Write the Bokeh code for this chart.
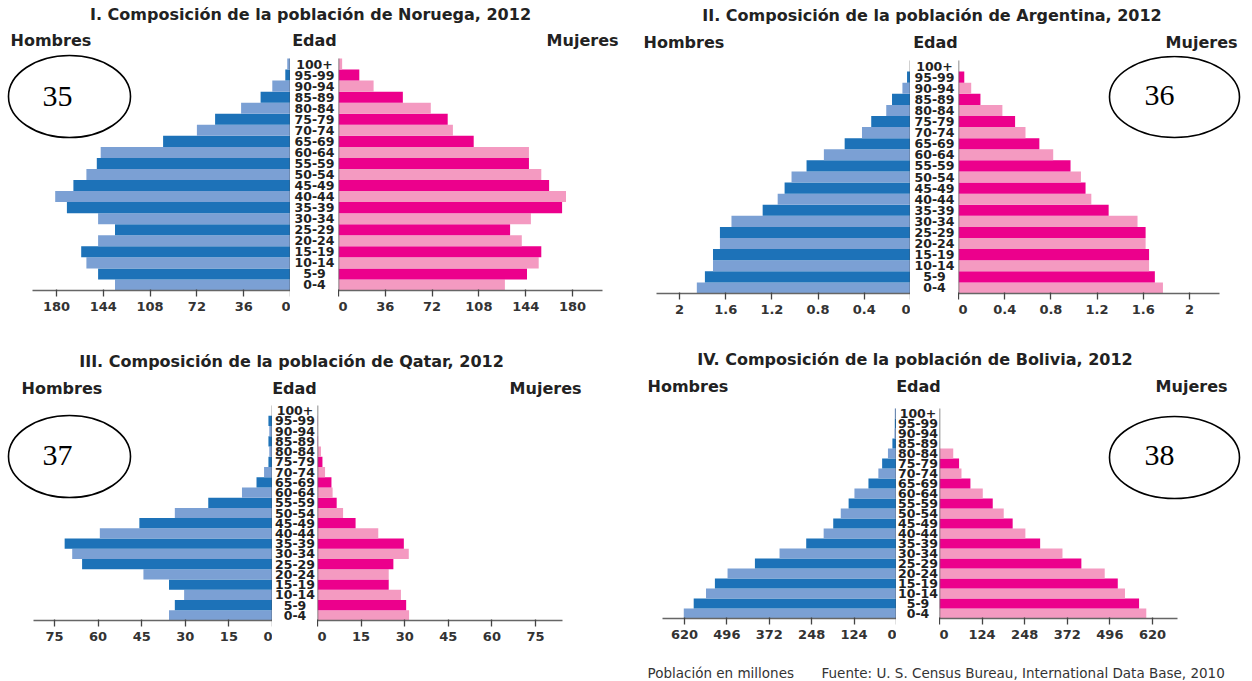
from bokeh.plotting import figure
from bokeh.layouts import row, column
from bokeh.models import (Range1d, FixedTicker, Span, NumeralTickFormatter,
                          ColumnDataSource, LinearScale)
from bokeh.embed import file_html
from bokeh.resources import INLINE
from bokeh.core.properties import value

# ---------------- data (bottom to top) ----------------
edades = ["0-4", "5-9", "10-14", "15-19", "20-24", "25-29", "30-34", "35-39",
          "40-44", "45-49", "50-54", "55-59", "60-64", "65-69", "70-74",
          "75-79", "80-84", "85-89", "90-94", "95-99", "100+"]

noruega_hombres = [135, 148, 157, 161, 148, 135, 148, 172, 181, 167, 157,
                   149, 146, 98, 72, 58, 38, 23, 14, 4, 2.5]
noruega_mujeres = [128, 145, 154, 156, 141, 132, 148, 172, 175, 162, 156,
                   146.5, 146.5, 104, 88, 84, 71, 49.5, 27, 16, 2.8]
noruega_ticks = [0, 36, 72, 108, 144, 180]

argentina_hombres = [1.85, 1.78, 1.71, 1.71, 1.65, 1.65, 1.55, 1.28, 1.15, 1.09,
                     1.03, 0.90, 0.75, 0.57, 0.42, 0.34, 0.21, 0.16, 0.07, 0.03, 0.0]
argentina_mujeres = [1.77, 1.70, 1.65, 1.65, 1.62, 1.62, 1.55, 1.30, 1.15, 1.10,
                     1.06, 0.97, 0.82, 0.70, 0.58, 0.49, 0.38, 0.19, 0.11, 0.05, 0.0]
argentina_ticks = [0, 0.4, 0.8, 1.2, 1.6, 2]

qatar_hombres = [35.6, 33.6, 30.4, 35.6, 44.4, 65.5, 68.9, 71.5, 59.4, 45.8,
                 33.6, 22.1, 10.5, 5.5, 2.9, 1.4, 1.1, 1.4, 1.1, 1.4, 0]
qatar_mujeres = [31.5, 30.5, 28.7, 24.5, 24.5, 26.1, 31.4, 29.7, 20.9, 13.1,
                 8.8, 6.6, 5.2, 4.8, 2.6, 1.7, 1.2, 0.2, 0.1, 0.1, 0]
qatar_ticks = [0, 15, 30, 45, 60, 75]

bolivia_hombres = [622, 593, 557, 531, 494, 414, 342, 264, 213, 185, 163,
                   140, 123, 82, 53, 42, 25, 12, 6, 5, 5]
bolivia_mujeres = [602, 581, 540, 519, 481, 413, 358, 293, 250, 213, 187,
                   155, 126, 90, 64, 57, 40, 0, 0, 0, 0]
bolivia_ticks = [0, 124, 248, 372, 496, 620]

titulos = ["I. Composición de la población de Noruega, 2012",
           "II. Composición de la población de Argentina, 2012",
           "III. Composición de la población de Qatar, 2012",
           "IV. Composición de la población de Bolivia, 2012"]
numeros = ["35", "36", "37", "38"]
nota_izq = "Población en millones"
nota_der = "Fuente: U. S. Census Bureau, International Data Base, 2010"

# ---------------- styling ----------------
AZUL_OSC, AZUL_CLA = "#1d72b8", "#7ba0d4"
ROSA_OSC, ROSA_CLA = "#ec008c", "#f49ac1"
TXT = "#222222"
FONT = "DejaVu Sans"

pos = list(range(len(edades)))  # numeric position of each age group (bottom = 0)
col_h = [AZUL_CLA if i % 2 == 0 else AZUL_OSC for i in pos]
col_m = [ROSA_CLA if i % 2 == 0 else ROSA_OSC for i in pos]

TOTAL_W = 1250
PAD = 5  # extra room (px) above the bars inside the frame, for the top age label

# geometry in page pixels
panels = [
    dict(title=titulos[0], h=noruega_hombres, m=noruega_mujeres, ticks=noruega_ticks, fmt=None,
         x0=0, w=628, y0=0, rh=340, top=58, frame=232, lz=290, rz=338, ppl=1.30, ppr=1.30,
         axl=32, axr=602, tt=(310, 14), hom=10, eda=314, muj=618, lab_y=40,
         ell=("L", 69, 96, 122, 82), num=(57, 96), n=numeros[0]),
    dict(title=titulos[1], h=argentina_hombres, m=argentina_mujeres, ticks=argentina_ticks, fmt="0.[0]",
         x0=628, w=622, y0=0, rh=340, top=60, frame=233, lz=910, rz=958, ppl=115.5, ppr=115.5,
         axl=656, axr=1219, tt=(931.5, 15), hom=643, eda=935, muj=1237, lab_y=42,
         ell=("R", 1174, 96.5, 130, 81), num=(1159, 95), n=numeros[1]),
    dict(title=titulos[2], h=qatar_hombres, m=qatar_mujeres, ticks=qatar_ticks, fmt=None,
         x0=0, w=628, y0=340, rh=322, top=405, frame=215, lz=272, rz=317, ppl=2.907, ppr=2.907,
         axl=33, axr=562, tt=(291, 361), hom=21, eda=294, muj=581, lab_y=388,
         ell=("L", 69, 456, 122, 82), num=(57, 455), n=numeros[2]),
    dict(title=titulos[3], h=bolivia_hombres, m=bolivia_mujeres, ticks=bolivia_ticks, fmt=None,
         x0=628, w=622, y0=340, rh=322, top=408, frame=210, lz=896, rz=939, ppl=0.342, ppr=0.3435,
         axl=662, axr=1177, tt=(914.5, 359), hom=647, eda=918, muj=1227, lab_y=386,
         ell=("R", 1174, 457, 130, 82), num=(1159, 455), n=numeros[3]),
]


def blank(width, height, axis=False, **kw):
    p = figure(width=width, height=height, output_backend="svg", toolbar_location=None,
               x_axis_location="below" if axis else None, y_axis_location=None,
               min_border_left=0, min_border_right=0, min_border_top=0, **kw)
    p.outline_line_color = None
    p.xgrid.visible = False
    p.ygrid.visible = False
    p.background_fill_color = "white"
    p.border_fill_color = "white"
    return p


def style_axis(p, ticks, fmt, bounds):
    p.xaxis.ticker = FixedTicker(ticks=ticks)
    p.xaxis.bounds = bounds
    p.xaxis.axis_line_color = "#666666"
    p.xaxis.axis_line_width = 1.3
    p.xaxis.major_tick_line_color = "#444444"
    p.xaxis.major_tick_line_width = 1.3
    p.xaxis.major_tick_out = 6
    p.xaxis.major_tick_in = 1
    p.xaxis.minor_tick_line_color = None
    p.xaxis.major_label_text_font = FONT
    p.xaxis.major_label_text_font_style = "bold"
    p.xaxis.major_label_text_font_size = "13px"
    p.xaxis.major_label_text_color = "#333333"
    p.xaxis.major_label_standoff = 5
    if fmt:
        p.xaxis.formatter = NumeralTickFormatter(format=fmt)


def build_panel(c):
    header_h = c["top"] - c["y0"] - PAD
    fig_h = c["rh"] - header_h
    frame_px = c["frame"] + PAD
    bottom = fig_h - frame_px

    # header with title and column labels (pixel coordinates)
    hd = blank(c["w"], header_h, min_border_bottom=0,
               x_range=Range1d(0, c["w"]), y_range=Range1d(header_h, 0))
    tx, ty = c["tt"]
    hd.text(x=[tx - c["x0"]], y=[ty - c["y0"]], text=[c["title"]], text_align="center",
            text_baseline="middle", text_font=value(FONT), text_font_style="bold",
            text_font_size="16px", text_color=TXT)
    ly = c["lab_y"] - c["y0"]
    for lab, lx, al in (("Hombres", c["hom"], "left"), ("Edad", c["eda"], "center"),
                        ("Mujeres", c["muj"], "right")):
        hd.text(x=[lx - c["x0"]], y=[ly], text=[lab], text_align=al,
                text_baseline="middle", text_font=value(FONT), text_font_style="bold",
                text_font_size="16px", text_color=TXT)

    row_px = c["frame"] / len(edades)
    yr = Range1d(-0.5, len(edades) - 0.5 + PAD / row_px)

    # left (men)
    lw = c["lz"] - c["x0"]
    left = blank(lw, fig_h, axis=True, min_border_bottom=bottom,
                 x_range=Range1d(lw / c["ppl"], 0), y_range=yr)
    src_h = ColumnDataSource(dict(pos=pos, edad=edades, val=c["h"], color=col_h))
    left.hbar(y="pos", right="val", left=0, height=1.0, color="color", line_color=None, source=src_h)
    style_axis(left, c["ticks"], c["fmt"], (0, (c["lz"] - c["axl"]) / c["ppl"]))
    left.segment(x0=[0], x1=[0], y0=[-0.5], y1=[len(edades) - 0.5],
                 line_color="#444444", line_width=1.5)

    # middle (age labels)
    mw = c["rz"] - c["lz"]
    mid = blank(mw, fig_h, min_border_bottom=bottom, x_range=Range1d(0, 1), y_range=yr)
    mid.text(x=[0.5] * len(edades), y=pos, text=edades, text_align="center",
             text_baseline="middle", text_font=value(FONT), text_font_style="bold",
             text_font_size="12.5px", text_color=TXT)

    # right (women)
    rw = c["x0"] + c["w"] - c["rz"]
    right = blank(rw, fig_h, axis=True, min_border_bottom=bottom,
                  x_range=Range1d(0, rw / c["ppr"]), y_range=yr)
    src_m = ColumnDataSource(dict(pos=pos, edad=edades, val=c["m"], color=col_m))
    right.hbar(y="pos", right="val", left=0, height=1.0, color="color", line_color=None, source=src_m)
    style_axis(right, c["ticks"], c["fmt"], (0, (c["axr"] - c["rz"]) / c["ppr"]))
    right.segment(x0=[0], x1=[0], y0=[-0.5], y1=[len(edades) - 0.5],
                  line_color="#666666", line_width=1.5)

    # ellipse with number (pixel-unit helper ranges)
    side, ex, ey, ew, eh = c["ell"]
    tgt, fx0 = (left, c["x0"]) if side == "L" else (right, c["rz"])
    fw = lw if side == "L" else rw
    tgt.extra_x_ranges = {"px": Range1d(0, fw)}
    tgt.extra_y_ranges = {"py": Range1d(c["frame"], -PAD)}
    tgt.extra_x_scales = {"px": LinearScale()}
    tgt.extra_y_scales = {"py": LinearScale()}
    tgt.ellipse(x=[ex - fx0], y=[ey - c["top"]], width=[ew], height=[eh],
                fill_color="white", line_color="black", line_width=1.6,
                x_range_name="px", y_range_name="py")
    nx, ny = c["num"]
    tgt.text(x=[nx - fx0], y=[ny - c["top"]], text=[c["n"]], text_align="center",
             text_baseline="middle", text_font=value("Liberation Serif"),
             text_font_size="30px", text_color="black",
             x_range_name="px", y_range_name="py")

    return column(hd, row(left, mid, right))


p1, p2, p3, p4 = [build_panel(c) for c in panels]

FOOT_H = 18
foot = blank(TOTAL_W, FOOT_H, min_border_bottom=0, x_range=Range1d(0, TOTAL_W),
             y_range=Range1d(FOOT_H, 0))
foot.text(x=[647], y=[10], text=[nota_izq], text_align="left", text_baseline="middle",
          text_font=value(FONT), text_font_size="13.5px", text_color="#333333")
foot.text(x=[821], y=[10], text=[nota_der], text_align="left", text_baseline="middle",
          text_font=value(FONT), text_font_size="13.5px", text_color="#333333")

layout = column(row(p1, p2), row(p3, p4), foot)

open("out.html", "w").write(file_html(layout, INLINE, title="Composición de la población 2012"))
